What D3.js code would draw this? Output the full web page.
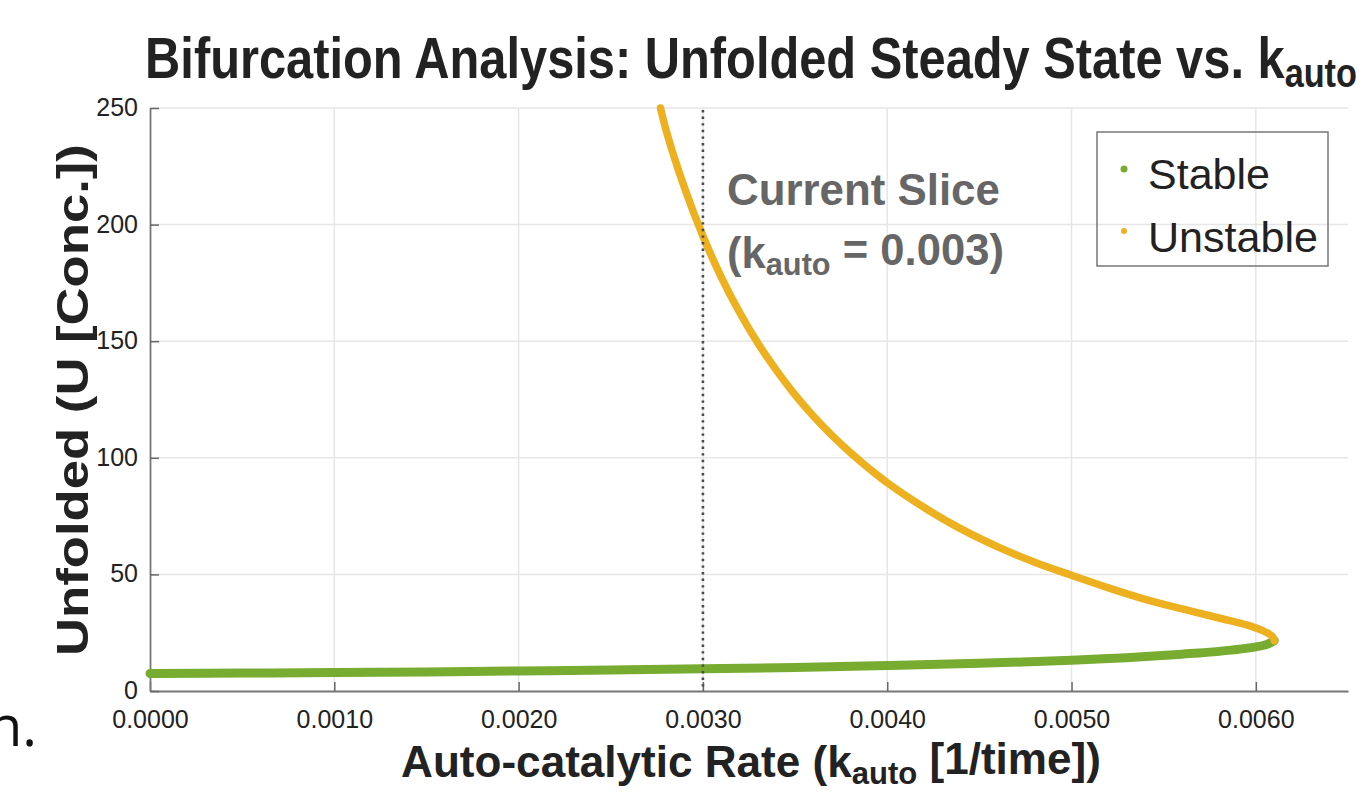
<!DOCTYPE html>
<html>
<head>
<meta charset="utf-8">
<script src="https://cdn.jsdelivr.net/npm/d3@7"></script>
<style>
  body { margin: 0; background: #fff; }
  svg { display: block; }
</style>
</head>
<body>
<svg id="chart" width="1364" height="802"></svg>
<script>
// stable branch (green)
const stableK = [0, 0.0005, 0.001, 0.0015, 0.002, 0.0025, 0.003, 0.0035, 0.004, 0.0045, 0.005, 0.0053, 0.0056, 0.0058, 0.006, 0.00606, 0.0061];
const stableU = [7.5, 7.7, 7.9, 8.2, 8.6, 9.0, 9.5, 10.1, 10.9, 11.9, 13.2, 14.3, 15.8, 17.0, 18.9, 20.0, 21.6];
// unstable branch (orange)
const unstableK = [0.0061, 0.00609, 0.00605, 0.00598, 0.0058, 0.0056, 0.0054, 0.0052, 0.005, 0.0048, 0.0046, 0.0044, 0.0042, 0.004, 0.0039, 0.0038, 0.0037, 0.0036, 0.0035, 0.0034, 0.0033, 0.0032, 0.0031, 0.003, 0.0029, 0.0028, 0.00277];
const unstableU = [21.6, 23.4, 25.4, 27.6, 31.3, 35.2, 39.3, 44.2, 49.6, 55.2, 61.8, 69.5, 78.7, 89.3, 95.5, 102.2, 109.6, 117.8, 127, 137.4, 148.9, 162.2, 177.4, 195.1, 215.8, 240.5, 250];
// ticks
const xTicks = [0, 0.001, 0.002, 0.003, 0.004, 0.005, 0.006];
const yTicks = [0, 50, 100, 150, 200, 250];
const sliceK = 0.003;

var plotLeft = 150, plotRight = 1348, plotTop = 108, plotBottom = 691;
var svg = d3.select("#chart");

var x = d3.scaleLinear().domain([0, 0.0065]).range([plotLeft, plotRight]);
var y = d3.scaleLinear().domain([0, 250]).range([plotBottom, plotTop]);

var narrow = "'Liberation Sans Narrow', 'Liberation Sans', Arial, sans-serif";

//
// grid lines
svg.append("g").selectAll("line").data(xTicks.slice(1)).enter().append("line")
  .attr("x1", d => x(d)).attr("x2", d => x(d))
  .attr("y1", plotTop).attr("y2", plotBottom)
  .style("stroke", "#e6e6e6").style("stroke-width", 1.5);
svg.append("g").selectAll("line").data(yTicks.slice(1)).enter().append("line")
  .attr("x1", plotLeft).attr("x2", plotRight)
  .attr("y1", d => y(d)).attr("y2", d => y(d))
  .style("stroke", "#e6e6e6").style("stroke-width", 1.5);

//
// axes, ticks pointing inward
var xAxis = svg.append("g")
  .attr("transform", "translate(0," + plotBottom + ")")
  .call(d3.axisBottom(x).tickValues(xTicks).tickFormat(d3.format(".4f"))
    .tickSizeInner(-9).tickSizeOuter(0).tickPadding(19));
var yAxis = svg.append("g")
  .attr("transform", "translate(" + plotLeft + ",0)")
  .call(d3.axisLeft(y).tickValues(yTicks).tickFormat(d3.format("d"))
    .tickSizeInner(-9).tickSizeOuter(0).tickPadding(12));
[xAxis, yAxis].forEach(a => {
  a.select(".domain").style("stroke", "#777").style("stroke-width", 1.8);
  a.selectAll(".tick line").style("stroke", "#666").style("stroke-width", 1.5);
  a.selectAll(".tick text").style("font-family", "'Liberation Sans', Arial, sans-serif")
    .style("font-size", "25px").style("fill", "#222");
});
yAxis.selectAll(".tick text").attr("dy", "0.3em");

//
// curves
var line = d3.line().x(d => x(d[0])).y(d => y(d[1])).curve(d3.curveCatmullRom.alpha(0.5));
svg.append("path")
  .datum(d3.zip(stableK, stableU))
  .style("fill", "none").style("stroke", "#77AC30").style("stroke-width", 9)
  .style("stroke-linecap", "round").style("stroke-linejoin", "round")
  .attr("d", line);
svg.append("path")
  .datum(d3.zip(unstableK, unstableU))
  .style("fill", "none").style("stroke", "#EDB120").style("stroke-width", 7.5)
  .style("stroke-linecap", "round").style("stroke-linejoin", "round")
  .attr("d", line);

//
// dotted slice line
svg.append("line")
  .attr("x1", x(sliceK)).attr("x2", x(sliceK))
  .attr("y1", plotTop + 2).attr("y2", plotBottom)
  .style("stroke", "#4a4a4a").style("stroke-width", 2.6)
  .style("stroke-dasharray", "2.4,4.2");

//
// text squeezed to a given width
function fitText(px, py, w, anchor, angle) {
  var g = svg.append("g").attr("transform", "translate(" + px + "," + py + ") rotate(" + (angle || 0) + ")");
  var t = g.append("text").attr("text-anchor", anchor);
  t.fit = function () {
    var bw = t.node().getBBox().width;
    t.attr("transform", "scale(" + (w / bw) + ",1)");
    return t;
  };
  return t;
}

// title
var title = fitText(751, 78, 1212, "middle").style("font-family", narrow)
  .style("font-weight", "bold").style("font-size", "57px").style("fill", "#222");
title.append("tspan").text("Bifurcation Analysis: Unfolded Steady State vs. k");
title.append("tspan").attr("dy", "0.22em").style("font-size", "40px").text("auto");
title.fit();

// x label
var xl = fitText(751, 777, 700, "middle").style("font-family", narrow)
  .style("font-weight", "bold").style("font-size", "44px").style("fill", "#222");
xl.append("tspan").text("Auto-catalytic Rate (k");
xl.append("tspan").attr("dy", "0.22em").style("font-size", "31px").text("auto");
xl.append("tspan").attr("dy", "-0.22em").text(" [1/time])");
xl.fit();

// y label
var yl = fitText(88, 400, 512, "middle", -90).style("font-family", narrow)
  .style("font-weight", "bold").style("font-size", "44px").style("fill", "#222");
yl.text("Unfolded (U [Conc.])");
yl.fit();

// annotation
var a1 = fitText(727, 205, 273, "start").style("font-family", narrow)
  .style("font-weight", "bold").style("font-size", "44px").style("fill", "#666");
a1.text("Current Slice");
a1.fit();
var a2 = fitText(727, 268, 277, "start").style("font-family", narrow)
  .style("font-weight", "bold").style("font-size", "44px").style("fill", "#666");
a2.append("tspan").text("(k");
a2.append("tspan").attr("dy", "0.22em").style("font-size", "31px").text("auto");
a2.append("tspan").attr("dy", "-0.22em").text(" = 0.003)");
a2.fit();

//
// legend
var legendNames = ["Stable", "Unstable"];
var legendColors = ["#77AC30", "#EDB120"];
svg.append("rect")
  .attr("x", 1097).attr("y", 132).attr("width", 231).attr("height", 134)
  .style("fill", "none").style("stroke", "#777").style("stroke-width", 1.5);
legendNames.forEach((n, i) => {
  svg.append("circle").attr("cx", 1124).attr("cy", 169 + i * 62)
    .attr("r", i === 0 ? 3.5 : 3).style("fill", legendColors[i]);
  var lt = fitText(1148, 189 + i * 63, i === 0 ? 122 : 170, "start")
    .style("font-family", narrow).style("font-size", "42px").style("fill", "#222");
  lt.text(n);
  lt.fit();
});

// stray fragment at the lower left edge
svg.append("text").attr("x", -12).attr("y", 746)
  .style("font-family", "'Open Sans', 'Noto Sans', sans-serif").style("font-size", "56px")
  .style("fill", "#111").text("n.");
</script>
</body>
</html>
